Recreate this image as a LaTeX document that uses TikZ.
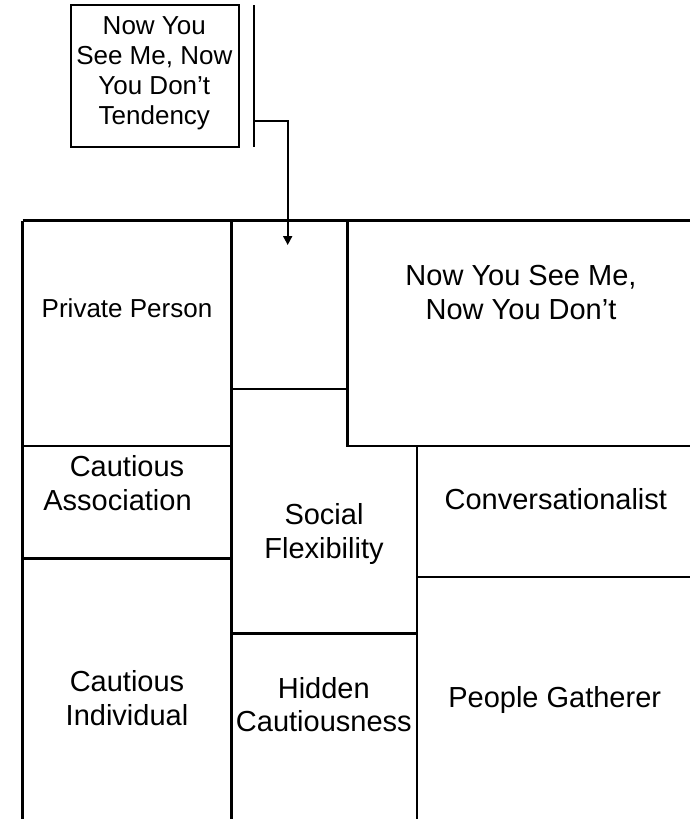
\documentclass[tikz,border=0pt]{standalone}
\usepackage{fontspec}
\setmainfont{Liberation Sans}
\usetikzlibrary{arrows.meta}
\tikzset{
  ln/.style={line width=2.5pt},
  thn/.style={line width=1.7pt},
  lbl/.style={font=\fontsize{29pt}{33.5pt}\selectfont, align=center, inner sep=0pt, anchor=base},
  lbls/.style={font=\fontsize{26pt}{30pt}\selectfont, align=center, inner sep=0pt, anchor=base},
  conn/.style={line width=1.8pt, -{Triangle[width=9pt,length=9pt]}},
}
\begin{document}
\begin{tikzpicture}[x=1pt,y=-1pt]
\useasboundingbox (0,0) rectangle (690,819);
% tendency box and bar
\node[draw, line width=2pt, minimum width=168pt, minimum height=142pt, inner sep=0pt] (tbox) at (154.7,76) {};
\node[lbls] (tt) at (154.3,124) {Now You\\See Me, Now\\You Don’t\\Tendency};
\coordinate (bartop) at (254,5);
\coordinate (barbot) at (254,147);
\draw[ln] (bartop) -- (barbot);
\coordinate (barj) at (254,120.7);
\coordinate (tgt) at (287.7,245);
\draw[conn] (barj) -| (tgt);
% grid
\draw[ln] (22.7,220.7) -- (690,220.7);
\draw[ln] (22.7,220.7) -- (22.7,819);
\draw[ln] (231.3,220.7) -- (231.3,819);
\draw[ln] (22.7,446) -- (231.3,446);
\draw[ln] (22.7,558.3) -- (231.3,558.3);
\draw[thn] (231.3,389.3) -- (347.3,389.3);
\draw[ln] (347.3,220.7) -- (347.3,446) -- (690,446);
\draw[thn] (416.7,446) -- (416.7,819);
\draw[ln] (231.3,633.3) -- (416.7,633.3);
\draw[thn] (416.7,577) -- (690,577);
% labels
\node[lbls] (pp) at (127,317.3) {Private Person};
\node[lbl] (nysm) at (521,319) {Now You See Me,\\Now You Don’t};
\node[lbl] (ca) at (127,510) {Cautious\\\hspace*{-19pt}Association};
\node[lbl] (sf) at (324,558.3) {Social\\Flexibility};
\node[lbl] (conv) at (555.8,509.3) {Conversationalist};
\node[lbl] (ci) at (127,725) {Cautious\\Individual};
\node[lbl] (hc) at (323.8,731.7) {Hidden\\Cautiousness};
\node[lbl] (pg) at (554.7,707.3) {People Gatherer};
\end{tikzpicture}
\end{document}
